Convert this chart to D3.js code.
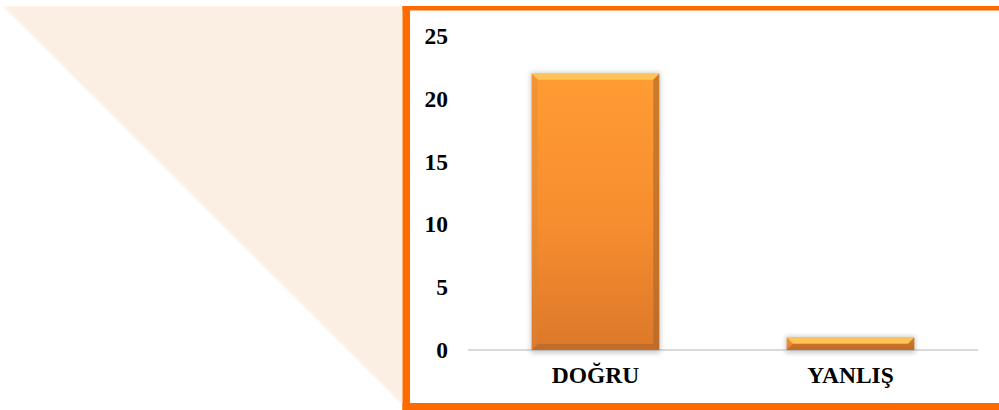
<!DOCTYPE html>
<html>
<head>
<meta charset="utf-8">
<script src="https://cdn.jsdelivr.net/npm/d3@7"></script>
<style>
  body { margin: 0; background: #fff; }
  svg { display: block; }
</style>
</head>
<body>
<div id="chart"></div>
<script>
let width = 999;
let height = 410;

// data
let categories = ['DOĞRU', 'YANLIŞ'];
let values = [22, 1];
let yTicks = [0, 5, 10, 15, 20, 25];

let labelFont = '"Liberation Serif", "Times New Roman", serif';

let svg = d3.select('#chart')
    .append('svg')
    .attr('width', width)
    .attr('height', height);

let defs = svg.append('defs');
defs.append('filter').attr('id', 'soft')
    .append('feGaussianBlur').attr('stdDeviation', 1.5);
let shadow = defs.append('filter').attr('id', 'shadow')
    .attr('x', '-20%').attr('y', '-20%').attr('width', '140%').attr('height', '140%');
shadow.append('feGaussianBlur').attr('stdDeviation', 2.5);

let grad = defs.append('linearGradient').attr('id', 'barFill')
    .attr('x1', 0).attr('y1', 0).attr('x2', 0).attr('y2', 1);
grad.append('stop').attr('offset', '0%').attr('stop-color', '#ff9c33');
grad.append('stop').attr('offset', '55%').attr('stop-color', '#f68d2f');
grad.append('stop').attr('offset', '100%').attr('stop-color', '#dc782a');

// background triangle decoration
svg.append('path')
    .attr('d', 'M3,6 L403,6 L403,405 Z')
    .attr('fill', '#fbeee2')
    .attr('filter', 'url(#soft)');
svg.append('rect').attr('x', 0).attr('y', 0).attr('width', width).attr('height', 6).attr('fill', '#fff');

// frame
svg.append('rect').attr('x', 410).attr('y', 10).attr('width', width - 410).attr('height', 393).attr('fill', '#fff');
let frameColor = '#ff6a00';
svg.append('rect').attr('x', 402.5).attr('y', 6).attr('width', width - 402.5).attr('height', 4.5).attr('fill', frameColor);
svg.append('rect').attr('x', 402.5).attr('y', 6).attr('width', 7.5).attr('height', height - 6).attr('fill', frameColor);
svg.append('rect').attr('x', 402.5).attr('y', 403).attr('width', width - 402.5).attr('height', 7).attr('fill', frameColor);

let plot = { left: 468, right: 978, top: 36, bottom: 350 };

let xScale = d3.scaleBand()
    .domain(categories)
    .range([plot.left, plot.right])
    .paddingInner(0.5)
    .paddingOuter(0.25);

let yScale = d3.scaleLinear()
    .domain([0, 25])
    .range([plot.bottom, plot.top]);

// baseline
svg.append('line')
    .attr('x1', plot.left).attr('x2', plot.right)
    .attr('y1', yScale(0)).attr('y2', yScale(0))
    .attr('stroke', '#d9d9d9').attr('stroke-width', 2);

// y axis labels
let yAxis = d3.axisLeft(yScale).tickValues(yTicks).tickSize(0).tickPadding(0);
let yAxisGroup = svg.append('g')
    .attr('transform', `translate(${448},0)`)
    .call(yAxis)
    .attr('font-family', labelFont)
    .attr('font-weight', 'bold')
    .attr('font-size', 23.5);
yAxisGroup.select('.domain').remove();
yAxisGroup.selectAll('text').attr('fill', '#000');

// x axis labels
let xAxis = d3.axisBottom(xScale).tickSize(0).tickPadding(0);
let xAxisGroup = svg.append('g')
    .attr('transform', `translate(0,${366})`)
    .call(xAxis)
    .attr('font-family', labelFont)
    .attr('font-weight', 'bold')
    .attr('font-size', 23.5);
xAxisGroup.select('.domain').remove();
xAxisGroup.selectAll('text')
    .attr('dy', '0.71em')
    .attr('fill', '#000');

// bars with bevel
let bars = svg.selectAll('.bar')
    .data(categories.map((c, i) => ({ cat: c, value: values[i] })))
    .enter()
    .append('g')
    .classed('bar', true);

bars.append('rect')
    .attr('x', d => xScale(d.cat) - 1)
    .attr('y', d => yScale(d.value) - 1)
    .attr('width', xScale.bandwidth() + 2)
    .attr('height', d => yScale(0) - yScale(d.value) + 4)
    .attr('fill', '#9a9a9a')
    .attr('opacity', 0.55)
    .attr('filter', 'url(#shadow)');

bars.append('rect')
    .attr('x', d => xScale(d.cat))
    .attr('y', d => yScale(d.value))
    .attr('width', xScale.bandwidth())
    .attr('height', d => yScale(0) - yScale(d.value))
    .attr('fill', 'url(#barFill)');

let bevel = (d, side) => {
    let x0 = xScale(d.cat), x1 = x0 + xScale.bandwidth();
    let y0 = yScale(d.value), y1 = yScale(0);
    let b = Math.min(6, (y1 - y0) / 2);
    if (side === 'top') return `M${x0},${y0}L${x1},${y0}L${x1 - b},${y0 + b}L${x0 + b},${y0 + b}Z`;
    if (side === 'bottom') return `M${x0},${y1}L${x1},${y1}L${x1 - b},${y1 - b}L${x0 + b},${y1 - b}Z`;
    if (side === 'left') return `M${x0},${y0}L${x0 + b},${y0 + b}L${x0 + b},${y1 - b}L${x0},${y1}Z`;
    return `M${x1},${y0}L${x1 - b},${y0 + b}L${x1 - b},${y1 - b}L${x1},${y1}Z`;
};
let bevelFill = { top: '#ffc85a', bottom: '#b5672a', left: '#d98436', right: '#a9642a' };
let bevelOpacity = { top: 0.9, bottom: 0.7, left: 0.35, right: 0.6 };
['top', 'left', 'right', 'bottom'].forEach(side => {
    bars.append('path')
        .attr('d', d => bevel(d, side))
        .attr('fill', bevelFill[side])
        .attr('opacity', bevelOpacity[side]);
});
</script>
</body>
</html>
